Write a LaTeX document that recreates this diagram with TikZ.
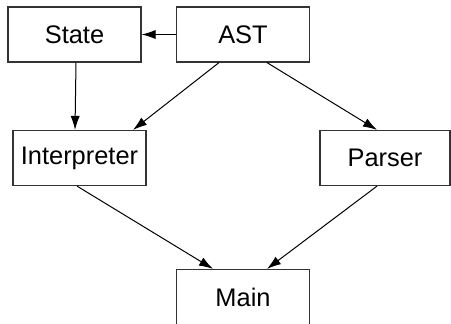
\documentclass[tikz,border=0pt]{standalone}
\usepackage{fontspec}
\setmainfont{Liberation Sans}
\usetikzlibrary{arrows.meta}

\begin{document}
\begin{tikzpicture}[x=.5pt,y=-.5pt,
  modbox/.style={draw=black!80,line width=.6pt,minimum width=66.5pt,minimum height=27.5pt,inner sep=0pt,font=\fontsize{12.7}{15}\selectfont},
  dep/.style={-{Latex[length=7pt,width=4.6pt]},line width=.5pt}]
\useasboundingbox (0,0) rectangle (451,323);

% Modules
\node[modbox] (State) at (74.5,34.5) {State};
\node[modbox] (AST) at (243,34.5) {AST};
\node[modbox] (Interp) at (79.5,158) {Interpreter};
\node[modbox,minimum width=65pt] (Parser) at (385,158) {Parser};
\node[modbox] (Main) at (243,297) {Main};

% Dependencies
\draw[dep] (AST.west) -- (State.east);
\draw[dep] ([xshift=.75pt]State.south) -- ([xshift=-2.25pt]Interp.north);
\draw[dep] ([xshift=-12pt]AST.south) -- ([xshift=26.75pt]Interp.north);
\draw[dep] ([xshift=12pt]AST.south) -- ([xshift=-4pt]Parser.north);
\draw[dep] ([xshift=-1.25pt]Interp.south) -- ([xshift=-15pt]Main.north);
\draw[dep] ([xshift=-4pt]Parser.south) -- ([xshift=12pt]Main.north);

\end{tikzpicture}
\end{document}
